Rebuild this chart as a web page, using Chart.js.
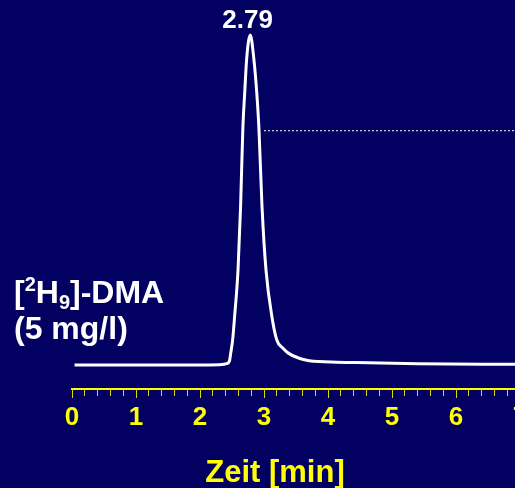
<!DOCTYPE html>
<html>
<head>
<meta charset="utf-8">
<script src="https://cdn.jsdelivr.net/npm/chart.js@4/dist/chart.umd.min.js"></script>
<style>
  html, body { margin: 0; padding: 0; background: #020060; overflow: hidden; }
  #wrap { width: 515px; height: 488px; overflow: hidden; }
  canvas { display: block; }
</style>
</head>
<body>
<div id="wrap"><canvas id="chromChart" width="540" height="488"></canvas></div>
<script>
// retention time (min) and relative detector response of the trace
const traceTime = [0.04, 1.0, 2.0, 2.3, 2.42, 2.46, 2.48, 2.51, 2.54, 2.594, 2.634, 2.67, 2.70, 2.73, 2.786,
  2.84, 2.885, 2.92, 2.969, 3.031, 3.125, 3.20, 3.29, 3.38, 3.65, 4.04, 4.38, 5.4, 6.93]
const traceSignal = [0, 0, 0, 0.1, 0.4, 1.2, 3.6, 7.6, 14.5, 28.8, 48, 72, 83, 93, 100,
  93, 83, 72, 48, 28.8, 14.5, 7.6, 5.2, 3.6, 1.5, 0.9, 0.75, 0.4, 0.2]

// dotted reference level to the right of the peak
const markerTime = [3.0, 7.0]
const markerLevel = [71, 71]

const peakTime = 2.79
const peakLabel = '2.79'
const xTicks = [0, 1, 2, 3, 4, 5, 6, 7]

const FONT = '"Liberation Sans", Arial, sans-serif'
const YELLOW = '#ffff00'

const textPlugin = {
  id: 'texts',
  afterDraw(chart) {
    const { ctx, scales } = chart
    const x = scales.x
    ctx.save()
    // peak label
    ctx.fillStyle = '#ffffff'
    ctx.font = 'bold 26px ' + FONT
    ctx.textAlign = 'center'
    ctx.textBaseline = 'alphabetic'
    ctx.fillText(peakLabel, x.getPixelForValue(peakTime) - 3, 28)

    // compound label
    ctx.textAlign = 'left'
    let cx = 14
    const base = 303
    const big = 'bold 32px ' + FONT
    const small = 'bold 20px ' + FONT
    const parts = [
      ['[', big, 0], ['2', small, -12], ['H', big, 0], ['9', small, 6], [']-DMA', big, 0]
    ]
    parts.forEach(([t, f, dy]) => {
      ctx.font = f
      ctx.fillText(t, cx, base + dy)
      cx += ctx.measureText(t).width
    })
    ctx.font = big
    ctx.fillText('(5 mg/l)', 14, 339)

    // axis title
    ctx.fillStyle = YELLOW
    ctx.font = 'bold 31px ' + FONT
    ctx.textAlign = 'center'
    ctx.fillText('Zeit [min]', 275, 482)
    ctx.restore()
  }
}

new Chart(document.getElementById('chromChart'), {
  type: 'line',
  data: {
    datasets: [
      {
        data: traceTime.map((t, i) => ({ x: t, y: traceSignal[i] })),
        borderColor: '#ffffff',
        borderWidth: 3,
        pointRadius: 0,
        cubicInterpolationMode: 'monotone',
        fill: false
      },
      {
        data: markerTime.map((t, i) => ({ x: t, y: markerLevel[i] })),
        borderColor: '#ffffff',
        borderWidth: 1,
        borderDash: [2, 2],
        pointRadius: 0,
        fill: false
      }
    ]
  },
  options: {
    responsive: false,
    animation: false,
    devicePixelRatio: 1,
    layout: { padding: { left: 72, right: 20, top: 0, bottom: 0 } },
    plugins: { legend: { display: false }, tooltip: { enabled: false } },
    scales: {
      x: {
        type: 'linear',
        min: 0,
        max: 7,
        afterFit(scale) { scale.height = 99 },
        border: { display: true, color: YELLOW, width: 2 },
        grid: {
          drawOnChartArea: false,
          drawTicks: true,
          tickLength: 9,
          tickColor: '#d8d800',
          tickWidth: 1,
          tickBorderDash: (c) => xTicks.some(v => Math.abs(v - c.tick.value) < 1e-6) ? [] : [6, 20]
        },
        ticks: {
          stepSize: 0.2,
          autoSkip: false,
          maxRotation: 0,
          padding: 4,
          color: YELLOW,
          font: { family: FONT, size: 26, weight: 'bold' },
          callback: (v) => {
            const k = xTicks.find(t => Math.abs(t - v) < 1e-6)
            return k === undefined ? '' : String(k)
          }
        }
      },
      y: {
        display: false,
        min: -7.27,
        max: 110.6
      }
    }
  },
  plugins: [textPlugin]
})
</script>
</body>
</html>
